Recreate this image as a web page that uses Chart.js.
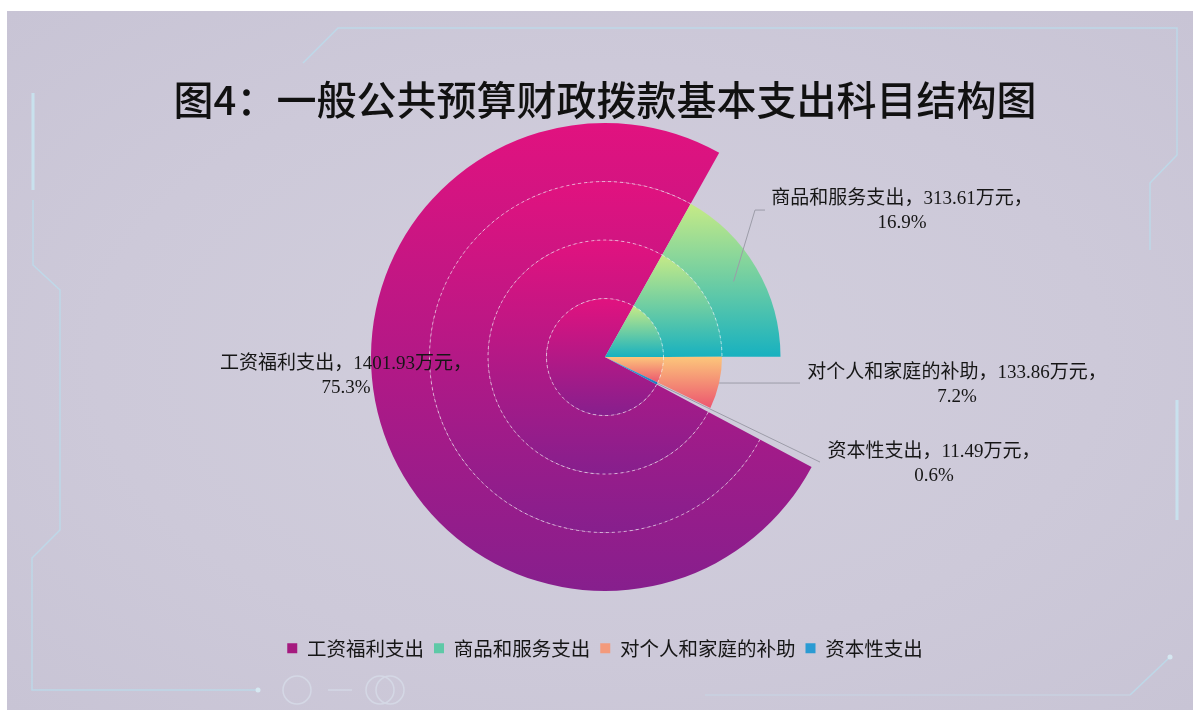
<!DOCTYPE html>
<html lang="zh-CN">
<head>
<meta charset="UTF-8" />
<title>一般公共预算财政拨款基本支出科目结构图</title>
<script src="https://cdn.jsdelivr.net/npm/chart.js"></script>
<style>
  html, body { margin: 0; padding: 0; width: 100%; height: 100%; background: #fff; overflow: hidden; }
  #panel {
    position: absolute; left: 7px; top: 11px; right: 0; bottom: 0;
    background: radial-gradient(ellipse at 50% 50%, #d2cfdd 0%, #cdc9d9 60%, #c8c4d5 100%);
  }
  #deco { position: absolute; left: 0; top: 0; }
  #wrap { position: absolute; left: 0; top: 0; width: 1193px; height: 710px; }
</style>
</head>
<body>
<div id="panel"></div>
<svg id="deco" width="1193" height="710" fill="none" stroke="#bcdcec" stroke-width="1.5" opacity="0.85">
  <polyline points="303,63 338,28 1177,28 1177,155 1150,183 1150,250" />
  <line x1="1177" y1="400" x2="1177" y2="520" stroke-width="3" stroke="#c8e6f2" />
  <polyline points="1130,695 1170,657" />
  <circle cx="1170" cy="657" r="2.5" fill="#d8eef6" stroke="none" />
  <line x1="705" y1="695" x2="1130" y2="695" stroke="#c9d3e3" />
  <line x1="33" y1="93" x2="33" y2="190" stroke-width="3" stroke="#c8e6f2" />
  <polyline points="33,200 33,265 60,290 60,530 32,558 32,690 258,690" />
  <circle cx="258" cy="690" r="2.5" fill="#d8eef6" stroke="none" />
  <circle cx="297" cy="690" r="14" stroke="#d6dbe8" />
  <line x1="328" y1="690" x2="352" y2="690" stroke="#d6dbe8" />
  <circle cx="380" cy="690" r="14" stroke="#d6dbe8" />
  <circle cx="390" cy="690" r="14" stroke="#d6dbe8" />
</svg>
<div id="wrap"><canvas id="rose"></canvas></div>
<script>
  const categories = ["工资福利支出", "商品和服务支出", "对个人和家庭的补助", "资本性支出"];
  const amounts = [1401.93, 313.61, 133.86, 11.49]; // 万元
  const roseLevels = [4, 3, 2, 1]; // number of rings each slice fills
  const ringCount = 4;

  const gradientStops = [
    ["#e1127f", "#861f8d"],
    ["#c6ea86", "#17b1c0"],
    ["#fcc67b", "#ec566f"],
    ["#3ab7e0", "#1b79bf"],
  ];
  const legendColors = ["#a51a7f", "#5ec9a7", "#f39a7c", "#2a9bd3"];

  // label block centre + leader line, relative to the pie centre
  const labelLayout = [
    { dx: -259, dy: 19 },
    { dx: 297, dy: -146, lead: 0.85, via: [150, -147], to: [160, -147] },
    { dx: 352, dy: 28, lead: 1.0, to: [195, 26] },
    { dx: 329, dy: 107, lead: 1.0, to: [215, 105] },
  ];

  const total = amounts.reduce((a, b) => a + b, 0);
  const labelFont = "19px 'Liberation Serif', 'Noto Sans CJK SC'";

  const datasets = [];
  for (let d = 0; d < ringCount; d++) {
    const ringNo = ringCount - d; // 1 = innermost
    datasets.push({
      data: amounts,
      ringNo: ringNo,
      radius: 234,
      clip: false,
      borderWidth: 0,
      hoverOffset: 0,
      backgroundColor: (c) =>
        roseLevels[c.dataIndex] >= ringNo ? gradientStops[c.dataIndex][1] : "rgba(0,0,0,0)",
    });
  }

  function ySpan(arc) {
    let lo = Infinity, hi = -Infinity;
    for (let k = 0; k <= 90; k++) {
      const a = arc.startAngle + ((arc.endAngle - arc.startAngle) * k) / 90;
      [arc.innerRadius, arc.outerRadius].forEach((r) => {
        const yy = arc.y + r * Math.sin(a);
        lo = Math.min(lo, yy);
        hi = Math.max(hi, yy);
      });
    }
    return [lo, hi];
  }

  // every ring piece gets its own top-to-bottom gradient, plus a dashed ring edge
  const roseRings = {
    id: "roseRings",
    beforeDatasetsDraw(chart) {
      const ctx = chart.ctx;
      chart.data.datasets.forEach((ds, d) => {
        chart.getDatasetMeta(d).data.forEach((arc, i) => {
          if (roseLevels[i] < ds.ringNo) return;
          const [y0, y1] = ySpan(arc);
          const g = ctx.createLinearGradient(0, y0, 0, Math.max(y1, y0 + 1));
          g.addColorStop(0, gradientStops[i][0]);
          g.addColorStop(1, gradientStops[i][1]);
          arc.options.backgroundColor = g;
        });
      });
    },
    afterDatasetsDraw(chart) {
      const ctx = chart.ctx;
      ctx.save();
      ctx.strokeStyle = "rgba(255,255,255,0.6)";
      ctx.lineWidth = 1;
      ctx.setLineDash([3, 3]);
      chart.data.datasets.forEach((ds, d) => {
        if (ds.ringNo < 2) return;
        chart.getDatasetMeta(d).data.forEach((arc, i) => {
          if (roseLevels[i] < ds.ringNo) return;
          ctx.beginPath();
          ctx.arc(arc.x, arc.y, arc.innerRadius, arc.startAngle, arc.endAngle);
          ctx.stroke();
        });
      });
      ctx.restore();

      // leader lines and data labels
      ctx.save();
      ctx.font = labelFont;
      ctx.fillStyle = "#161616";
      ctx.textAlign = "center";
      ctx.textBaseline = "middle";
      categories.forEach((name, i) => {
        const d = ringCount - roseLevels[i];
        const arc = chart.getDatasetMeta(d).data[i];
        const cx = arc.x, cy = arc.y;
        const lay = labelLayout[i];
        if (lay.to) {
          const mid = (arc.startAngle + arc.endAngle) / 2;
          const r = arc.outerRadius * lay.lead;
          ctx.beginPath();
          ctx.strokeStyle = "#9c9ca8";
          ctx.lineWidth = 1;
          ctx.moveTo(cx + r * Math.cos(mid), cy + r * Math.sin(mid));
          if (lay.via) ctx.lineTo(cx + lay.via[0], cy + lay.via[1]);
          ctx.lineTo(cx + lay.to[0], cy + lay.to[1]);
          ctx.stroke();
        }
        const pct = ((amounts[i] / total) * 100).toFixed(1) + "%";
        ctx.fillText(name + "，" + amounts[i].toFixed(2) + "万元，", cx + lay.dx, cy + lay.dy - 12);
        ctx.fillText(pct, cx + lay.dx, cy + lay.dy + 12);
      });
      ctx.restore();
    },
  };

  new Chart(document.getElementById("rose"), {
    type: "pie",
    data: { labels: categories, datasets: datasets },
    plugins: [roseRings],
    options: {
      responsive: true,
      maintainAspectRatio: false,
      animation: false,
      rotation: 118,
      layout: { padding: { left: 17, top: 8, bottom: 42 } },
      plugins: {
        tooltip: { enabled: false },
        title: {
          display: true,
          text: "图4：一般公共预算财政拨款基本支出科目结构图",
          color: "#111",
          font: { family: "'Noto Sans CJK SC'", size: 40, weight: "500" },
          padding: { top: 68, bottom: 0 },
        },
        legend: {
          position: "bottom",
          title: { display: true, text: "", padding: { top: 24, bottom: 0 } },
          labels: {
            boxWidth: 10,
            boxHeight: 10,
            padding: 10,
            color: "#161616",
            font: { family: "'Noto Sans CJK SC'", size: 19.5 },
            generateLabels: () =>
              categories.map((c, i) => ({
                text: c,
                fillStyle: legendColors[i],
                strokeStyle: "rgba(0,0,0,0)",
                fontColor: "#161616",
                lineWidth: 0,
                hidden: false,
                index: i,
              })),
          },
        },
      },
    },
  });
</script>
</body>
</html>
